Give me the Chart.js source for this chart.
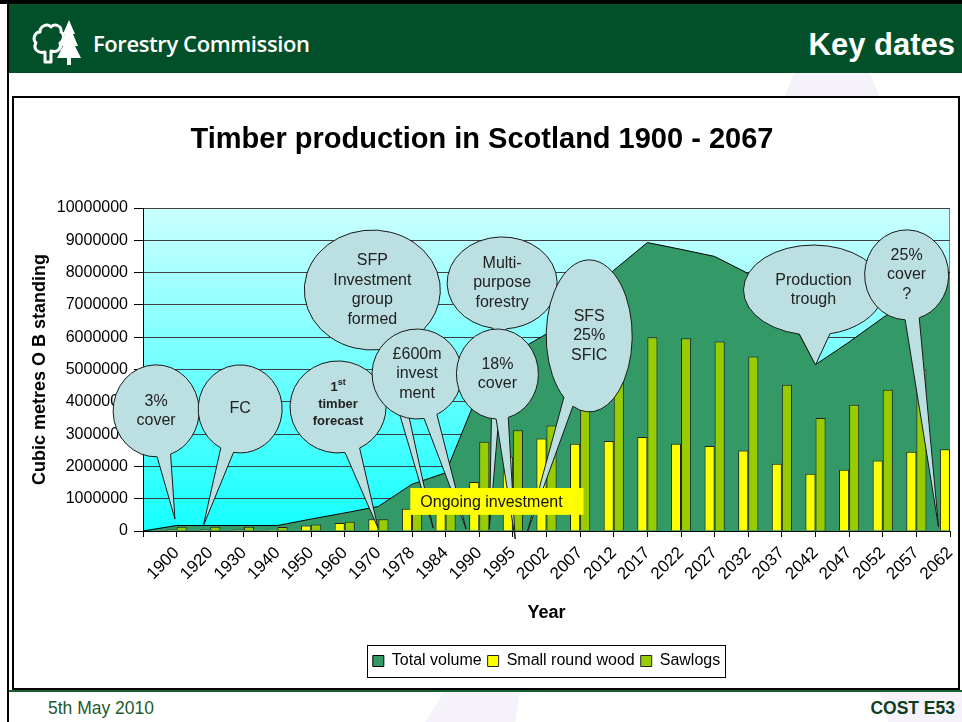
<!DOCTYPE html>
<html>
<head>
<meta charset="utf-8">
<title>Timber production in Scotland 1900 - 2067</title>
<script src="https://cdn.jsdelivr.net/npm/chart.js@4.4.1/dist/chart.umd.min.js"></script>
<style>
  html, body { margin: 0; padding: 0; background: #fff; }
  body { width: 962px; height: 722px; position: relative; overflow: hidden; font-family: Arial, "Liberation Sans", sans-serif; }
  .frame-top { position: absolute; left: 0; top: 0; width: 962px; height: 4px; background: #000; }
  .frame-left { position: absolute; left: 7px; top: 0; width: 2px; height: 722px; background: #000; }
  .header { position: absolute; left: 9px; top: 4px; width: 953px; height: 69px; background: #01502a; }
  .brand { position: absolute; left: 84px; top: 24px; color: #fff; font-family: "Open Sans", sans-serif; font-weight: 600; font-size: 22px; letter-spacing: -0.4px; }
  .logo { position: absolute; }
  .page-title { position: absolute; right: 7px; top: 23px; color: #fff; font-weight: bold; font-size: 31px; }
  .ghost { position: absolute; background: #f5f3f9; }
  .chart-box { position: absolute; left: 12px; top: 96px; width: 944px; height: 590px; border: 2px solid #000; background: #fff; }
  .chart-box canvas { position: absolute; left: 0; top: 0; }
  .footer-line { position: absolute; left: 9px; top: 690px; width: 953px; height: 2px; background: #1b5e34; }
  .foot-left { position: absolute; left: 48px; top: 698px; font-size: 17.5px; color: #1d5a2d; }
  .foot-right { position: absolute; right: 7px; top: 698px; font-size: 17.5px; font-weight: bold; color: #0e3d20; }
</style>
</head>
<body>
<div class="ghost" style="left:782px;top:73px;width:100px;height:30px;clip-path:polygon(12% 0,88% 0,100% 100%,0 100%);"></div>
<div class="ghost" style="left:425px;top:692px;width:95px;height:30px;clip-path:polygon(20% 0,100% 0,95% 100%,0 100%);"></div>
<div class="ghost" style="left:880px;top:692px;width:82px;height:30px;clip-path:polygon(0 0,100% 0,100% 100%,10% 100%);"></div>
<div class="frame-top"></div>
<div class="frame-left"></div>
<div class="header">
  <svg class="logo" width="54" height="48" viewBox="0 0 54 48" style="left:22px;top:14px;">
    <path d="M14 44 L14 34 C6 36 2 30 5 25 C1 21 4 14 9 14 C9 8 16 5 20 9 C24 5 31 8 30 14 C34 16 33 23 29 25 C31 30 27 35 20 33 L20 44 Z" fill="none" stroke="#fff" stroke-width="3" stroke-linejoin="round"/>
    <path d="M38 2 L44 16 L42 16 L47 28 L44 28 L50 40 L40 40 L40 47 L36 47 L36 40 L26 40 L32 28 L29 28 L34 16 L32 16 Z" fill="#fff"/>
  </svg>
  <div class="brand">Forestry Commission</div>
  <div class="page-title">Key dates</div>
</div>
<div class="chart-box"><canvas id="timberChart" width="944" height="590"></canvas></div>
<div class="footer-line"></div>
<div class="foot-left">5th May 2010</div>
<div class="foot-right">COST E53</div>

<script>
// =====================================================
// DATA
// =====================================================
const years = ['', '1900', '1920', '1930', '1940', '1950', '1960', '1970', '1978', '1984', '1990', '1995',
  '2002', '2007', '2012', '2017', '2022', '2027', '2032', '2037', '2042', '2047', '2052', '2057', '2062'];

const totalVolume = [0, 170000, 170000, 170000, 170000, 370000, 560000, 760000, 1450000, 1800000, 4350000, 5500000,
  6100000, 7000000, 8070000, 8930000, 8720000, 8500000, 7970000, 7100000, 5150000, 5850000, 6600000, 7300000, 8020000];

const smallRoundWood = [null, 50000, 50000, 50000, 40000, 170000, 250000, 360000, 690000, 1100000, 1520000, 2300000,
  2860000, 2700000, 2790000, 2910000, 2700000, 2630000, 2490000, 2080000, 1770000, 1900000, 2180000, 2450000, 2530000];

const sawlogs = [null, 130000, 130000, 130000, 120000, 200000, 290000, 360000, 800000, 1250000, 2760000, 3120000,
  3270000, 4000000, 4900000, 6000000, 5970000, 5870000, 5400000, 4530000, 3500000, 3910000, 4370000, 5000000, null];

const yTicks = [0, 1000000, 2000000, 3000000, 4000000, 5000000, 6000000, 7000000, 8000000, 9000000, 10000000];

// =====================================================
// CALLOUTS (anchored in data units: category index, cubic metres)
// =====================================================
const callouts = [
  { lines: ['3%', 'cover'], at: [0.39, 3720000], tip: [0.95, 370000], rx: 43, ry: 46 },
  { lines: ['FC'], at: [2.89, 3780000], tip: [1.79, 150000], rx: 42, ry: 44 },
  { lines: ['1st', 'timber', 'forecast'], at: [5.80, 3840000], tip: [6.99, 90000], rx: 48, ry: 46, bold: true, size: 13, lh: 17, dy: -3 },
  { lines: ['SFP', 'Investment', 'group', 'formed'], at: [6.82, 7460000], tip: [8.63, 90000], rx: 68, ry: 60, gap: 0.1 },
  { lines: ['£600m', 'invest', 'ment'], at: [8.15, 4860000], tip: [9.61, 60000], rx: 45, ry: 45, gap: 0.15 },
  { lines: ['Multi-', 'purpose', 'forestry'], at: [10.68, 7680000], tip: [10.30, 60000], rx: 55, ry: 46, gap: 0.12 },
  { lines: ['18%', 'cover'], at: [10.54, 4860000], tip: [11.07, -250000], rx: 41, ry: 45, gap: 0.15 },
  { lines: ['SFS', '25%', 'SFIC'], at: [13.27, 6040000], tip: [11.43, -30000], rx: 43, ry: 76, gap: 0.12 },
  { lines: ['Production', 'trough'], at: [19.94, 7460000], tip: [20.0, 5140000], rx: 70, ry: 45, gap: 0.22 },
  { lines: ['25%', 'cover', '?'], at: [22.71, 7930000], tip: [23.66, 120000], rx: 42, ry: 45, gap: 0.17 }
];

const banner = { text: 'Ongoing investment', from: [7.95, 1330000], to: [13.1, 500000] };

const FONT = 'Arial, "Liberation Sans", sans-serif';
Chart.defaults.font.family = FONT;
Chart.defaults.color = '#000';

// =====================================================
// PLUGINS
// =====================================================
const plotBackground = {
  id: 'plotBackground',
  beforeDraw(chart) {
    const { ctx, chartArea: a } = chart;
    const g = ctx.createLinearGradient(0, a.top, 0, a.bottom);
    g.addColorStop(0, '#ccffff');
    g.addColorStop(1, '#14ffff');
    ctx.save();
    ctx.fillStyle = g;
    ctx.fillRect(a.left, a.top, a.right - a.left, a.bottom - a.top);
    ctx.strokeStyle = '#808080';
    ctx.lineWidth = 1;
    ctx.strokeRect(a.left + 0.5, a.top + 0.5, a.right - a.left - 1, a.bottom - a.top);
    ctx.restore();
  }
};

// centre the legend under the plot area rather than the whole canvas
const legendUnderPlot = {
  id: 'legendUnderPlot',
  afterLayout(chart) {
    if (!chart.legend) return;
    chart.legend.left = chart.chartArea.left;
    chart.legend.right = chart.chartArea.right;
  }
};

function drawCallout(ctx, c, xs, ys) {
  const cx = xs.getPixelForValue(c.at[0]), cy = ys.getPixelForValue(c.at[1]);
  const tx = xs.getPixelForValue(c.tip[0]), ty = ys.getPixelForValue(c.tip[1]);
  const ang = Math.atan2((ty - cy) / c.ry, (tx - cx) / c.rx);
  const w = c.gap || 0.16;

  ctx.beginPath();
  ctx.ellipse(cx, cy, c.rx, c.ry, 0, ang + w, ang - w + Math.PI * 2);
  ctx.lineTo(tx, ty);
  ctx.closePath();
  ctx.fillStyle = '#bcdfe2';
  ctx.fill();
  ctx.strokeStyle = '#1a1a1a';
  ctx.lineWidth = 1;
  ctx.stroke();

  const size = c.size || 16, lh = c.lh || 19.5;
  const weight = c.bold ? 'bold ' : '';
  ctx.fillStyle = '#222';
  ctx.textAlign = 'center';
  ctx.textBaseline = 'middle';
  const y0 = cy + (c.dy || 0) - (c.lines.length - 1) * lh / 2;
  c.lines.forEach((line, i) => {
    const y = y0 + i * lh;
    if (line === '1st') {
      // superscript ordinal
      ctx.font = weight + size + 'px ' + FONT;
      const wOne = ctx.measureText('1').width;
      ctx.font = weight + '9px ' + FONT;
      const wSt = ctx.measureText('st').width;
      const left = cx - (wOne + wSt) / 2;
      ctx.textAlign = 'left';
      ctx.font = weight + size + 'px ' + FONT;
      ctx.fillText('1', left, y);
      ctx.font = weight + '9px ' + FONT;
      ctx.fillText('st', left + wOne, y - 4);
      ctx.textAlign = 'center';
    } else {
      ctx.font = weight + size + 'px ' + FONT;
      ctx.fillText(line, cx, y);
    }
  });
}

const annotations = {
  id: 'annotations',
  afterDraw(chart) {
    const { ctx } = chart;
    const xs = chart.scales.x, ys = chart.scales.y;
    ctx.save();
    callouts.forEach(c => drawCallout(ctx, c, xs, ys));

    // yellow banner
    const l = xs.getPixelForValue(banner.from[0]), t = ys.getPixelForValue(banner.from[1]);
    const r = xs.getPixelForValue(banner.to[0]), b = ys.getPixelForValue(banner.to[1]);
    ctx.fillStyle = '#ffff00';
    ctx.fillRect(l, t, r - l, b - t);
    ctx.fillStyle = '#111';
    ctx.font = '16px ' + FONT;
    ctx.textAlign = 'left';
    ctx.textBaseline = 'middle';
    ctx.fillText(banner.text, l + 10, (t + b) / 2 + 1);

    // legend frame
    const boxes = chart.legend.legendHitBoxes;
    if (boxes && boxes.length) {
      const left = Math.min(...boxes.map(h => h.left)) - 6;
      const right = Math.max(...boxes.map(h => h.left + h.width)) + 5;
      const top = Math.min(...boxes.map(h => h.top)) - 8;
      const bottom = Math.max(...boxes.map(h => h.top + h.height)) + 8;
      ctx.strokeStyle = '#000';
      ctx.lineWidth = 1;
      ctx.strokeRect(Math.round(left) + 0.5, Math.round(top) + 0.5, Math.round(right - left), Math.round(bottom - top));
    }
    ctx.restore();
  }
};

// =====================================================
// CHART
// =====================================================
new Chart(document.getElementById('timberChart'), {
  type: 'bar',
  data: {
    labels: years,
    datasets: [
      {
        type: 'line',
        label: 'Total volume',
        data: totalVolume,
        fill: 'origin',
        backgroundColor: '#339966',
        borderColor: '#000',
        borderWidth: 1,
        pointRadius: 0,
        tension: 0,
        order: 2
      },
      {
        label: 'Small round wood',
        data: smallRoundWood,
        backgroundColor: '#ffff00',
        borderColor: '#222',
        borderWidth: 1,
        categoryPercentage: 0.6,
        barPercentage: 1.0,
        order: 1
      },
      {
        label: 'Sawlogs',
        data: sawlogs,
        backgroundColor: '#99cc00',
        borderColor: '#222',
        borderWidth: 1,
        categoryPercentage: 0.6,
        barPercentage: 1.0,
        order: 1
      }
    ]
  },
  options: {
    responsive: false,
    animation: false,
    layout: { padding: { left: 0, right: 8, top: 0, bottom: 9 } },
    plugins: {
      title: {
        display: true,
        text: 'Timber production in Scotland 1900 - 2067',
        color: '#000',
        font: { size: 29, weight: 'bold' },
        padding: { top: 24.6, bottom: 50.6 }
      },
      legend: {
        position: 'bottom',
        labels: {
          boxWidth: 11, boxHeight: 11, padding: 6, color: '#000', font: { size: 16 },
          sort: (a, b) => a.datasetIndex - b.datasetIndex
        }
      },
      tooltip: { enabled: false }
    },
    scales: {
      x: {
        offset: false,
        grid: { offset: false, drawOnChartArea: false, tickLength: 6, tickColor: '#000' },
        border: { color: '#000' },
        ticks: { autoSkip: false, maxRotation: 45, minRotation: 45, padding: 6, color: '#000', font: { size: 17 } },
        title: { display: true, text: 'Year', color: '#000', font: { size: 18, weight: 'bold' }, padding: { top: 4, bottom: 23 } },
        afterFit(s) { s.height = 116; s.paddingLeft = 0; s.paddingRight = 0; }
      },
      y: {
        min: 0,
        max: 10000000,
        afterBuildTicks(s) { s.ticks = yTicks.map(v => ({ value: v })); },
        grid: { color: '#404040', tickColor: '#000', tickLength: 9 },
        border: { color: '#000' },
        ticks: { color: '#000', font: { size: 16 }, padding: 6, callback: v => String(v) },
        title: { display: true, text: 'Cubic metres O B standing', color: '#000', font: { size: 18, weight: 'bold' }, padding: { top: 15, bottom: 4 } },
        afterFit(s) { s.width = 129; }
      }
    }
  },
  plugins: [plotBackground, legendUnderPlot, annotations]
});
</script>
</body>
</html>
